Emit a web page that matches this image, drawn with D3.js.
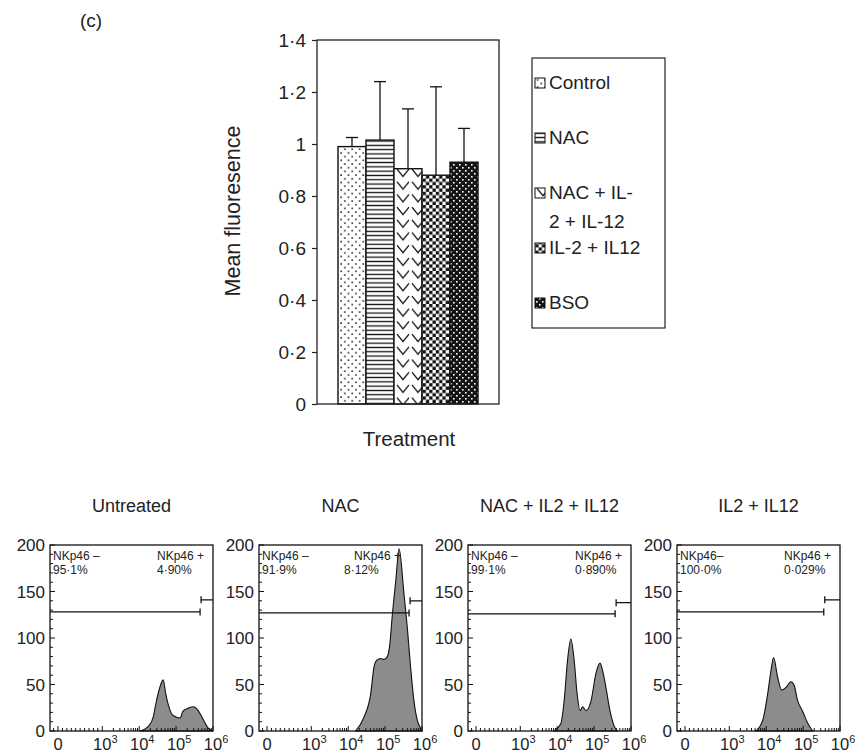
<!DOCTYPE html>
<html>
<head>
<meta charset="utf-8">
<script src="https://cdnjs.cloudflare.com/ajax/libs/d3/7.8.5/d3.min.js"></script>
<style>
  body { margin: 0; background: #fff; }
  svg { display: block; font-family: Arial, "Liberation Sans", sans-serif; }
</style>
</head>
<body>
<script>
// ---- panel (c): mean fluorescence bars ----
var treatments = ["Control", "NAC", "NAC + IL-2 + IL-12", "IL-2 + IL12", "BSO"];
var legendLines = [["Control"], ["NAC"], ["NAC + IL-", "2 + IL-12"], ["IL-2 + IL12"], ["BSO"]];
var meanFluor = [0.99, 1.015, 0.905, 0.88, 0.93];
var errorUp = [0.035, 0.225, 0.23, 0.34, 0.13];
var yTicks = [0, 0.2, 0.4, 0.6, 0.8, 1, 1.2, 1.4];
var patternIds = ["dots", "hlines", "zigzag", "checker", "bso"];

// ---- flow cytometry histograms ----
var panelTitles = ["Untreated", "NAC", "NAC + IL2 + IL12", "IL2 + IL12"];
var negLabels = ["NKp46 \u2013", "NKp46 \u2013", "NKp46 \u2013", "NKp46\u2013"];
var negPct = ["95\u00b71%", "91\u00b79%", "99\u00b71%", "100\u00b70%"];
var posPct = ["4\u00b790%", "8\u00b712%", "0\u00b7890%", "0\u00b7029%"];
var gateSplit = [5.65, 5.65, 5.57, 5.56];   // log10 boundary between gates
var gateNegY = [128, 127, 126, 128];
var gatePosY = [141, 140, 138, 141];
var histXTicks = ["0", "3", "4", "5", "6"];
var histYTicks = [0, 50, 100, 150, 200];

// [log10 intensity, count]
var hist1 = [[4.02,0],[4.25,5],[4.38,15],[4.46,31],[4.56,47],[4.65,55],[4.72,40],[4.79,28],[4.91,17],
  [5.11,14],[5.18,21],[5.29,24],[5.47,26],[5.60,22],[5.74,12],[5.87,3],[6.0,0]];
var hist2 = [[4.20,0],[4.43,15],[4.61,40],[4.70,69],[4.77,76],[4.88,78],[4.97,77],[5.06,80],[5.13,94],
  [5.19,122],[5.29,162],[5.38,196],[5.51,148],[5.60,112],[5.69,69],[5.78,33],[5.87,12],[5.96,3],[6.0,0]];
var hist3 = [[3.92,0],[4.10,8],[4.19,33],[4.28,76],[4.37,99],[4.46,76],[4.54,40],[4.62,22],[4.69,26],
  [4.78,22],[4.92,33],[5.05,62],[5.16,73],[5.23,65],[5.32,47],[5.41,26],[5.52,8],[5.59,2],[5.65,0]];
var hist4 = [[3.72,0],[3.91,12],[4.04,40],[4.13,65],[4.20,79],[4.31,58],[4.42,44],[4.54,47],[4.67,53],
  [4.76,49],[4.85,33],[4.99,21],[5.13,8],[5.26,0]];
var hists = [hist1, hist2, hist3, hist4];

var svg = d3.select("body").append("svg")
  .attr("width", 855)
  .attr("height", 755);

function fmt(d) {
  if (d === 0 || d === 1) return String(d);
  return d3.format(".1f")(d).replace(".", "\u00b7");
}

// fill patterns
var defs = svg.append("defs");
var p = defs.append("pattern").attr("id", "dots").attr("patternUnits", "userSpaceOnUse")
  .attr("width", 7.4).attr("height", 7.4);
p.append("rect").attr("width", 7.4).attr("height", 7.4).attr("fill", "#fff");
p.append("rect").attr("x", 1.2).attr("y", 1.2).attr("width", 1.5).attr("height", 1.5).attr("fill", "#111");
p.append("rect").attr("x", 4.9).attr("y", 4.9).attr("width", 1.5).attr("height", 1.5).attr("fill", "#111");

p = defs.append("pattern").attr("id", "hlines").attr("patternUnits", "userSpaceOnUse")
  .attr("width", 4).attr("height", 4.3);
p.append("rect").attr("width", 4).attr("height", 4.3).attr("fill", "#fff");
p.append("rect").attr("y", 1.5).attr("width", 4).attr("height", 1.3).attr("fill", "#111");

// separate V marks, two per bar width
p = defs.append("pattern").attr("id", "zigzag").attr("patternUnits", "userSpaceOnUse")
  .attr("width", 15).attr("height", 12.7).attr("x", 3);
p.append("rect").attr("width", 15).attr("height", 12.7).attr("fill", "#fff");
p.append("path").attr("d", "M2,2 L8,9.5 L14,2").attr("fill", "none")
  .attr("stroke", "#111").attr("stroke-width", 1.3);

p = defs.append("pattern").attr("id", "checker").attr("patternUnits", "userSpaceOnUse")
  .attr("width", 6.6).attr("height", 6.6);
p.append("rect").attr("width", 6.6).attr("height", 6.6).attr("fill", "#fff");
p.append("rect").attr("width", 3.3).attr("height", 3.3).attr("fill", "#111");
p.append("rect").attr("x", 3.3).attr("y", 3.3).attr("width", 3.3).attr("height", 3.3).attr("fill", "#111");

p = defs.append("pattern").attr("id", "bso").attr("patternUnits", "userSpaceOnUse")
  .attr("width", 6).attr("height", 6);
p.append("rect").attr("width", 6).attr("height", 6).attr("fill", "#151515");
p.append("rect").attr("x", 1).attr("y", 1).attr("width", 1.6).attr("height", 1.6).attr("fill", "#fff");
p.append("rect").attr("x", 4).attr("y", 4).attr("width", 1.6).attr("height", 1.6).attr("fill", "#fff");

// ===== bar chart =====
var margin = { top: 40, left: 317 },
  width = 182,
  height = 364;
var g = svg.append("g")
  .attr("transform", "translate(" + margin.left + "," + margin.top + ")");

svg.append("text")
  .attr("x", 80).attr("y", 27)
  .style("font-size", "19px")
  .attr("fill", "#222")
  .text("(c)");

var x = d3.scaleBand().domain(treatments).range([0, width])
  .paddingInner(0).paddingOuter(0.75);
var y = d3.scaleLinear().domain([0, 1.4]).range([height, 0]);

g.selectAll(".bar")
  .data(treatments)
  .enter().append("rect")
  .attr("class", "bar")
  .attr("x", function (d) { return x(d); })
  .attr("y", function (d, i) { return y(meanFluor[i]); })
  .attr("width", x.bandwidth())
  .attr("height", function (d, i) { return height - y(meanFluor[i]); })
  .attr("fill", function (d, i) { return "url(#" + patternIds[i] + ")"; })
  .attr("stroke", "#111")
  .attr("stroke-width", 1.4);

// upper error bars only
var err = g.selectAll(".err")
  .data(treatments)
  .enter().append("g")
  .attr("class", "err")
  .attr("stroke", "#111")
  .attr("stroke-width", 1.3);
err.append("line")
  .attr("x1", function (d) { return x(d) + x.bandwidth() / 2; })
  .attr("x2", function (d) { return x(d) + x.bandwidth() / 2; })
  .attr("y1", function (d, i) { return y(meanFluor[i]); })
  .attr("y2", function (d, i) { return y(meanFluor[i] + errorUp[i]); });
err.append("line")
  .attr("x1", function (d) { return x(d) + x.bandwidth() / 2 - 6; })
  .attr("x2", function (d) { return x(d) + x.bandwidth() / 2 + 6; })
  .attr("y1", function (d, i) { return y(meanFluor[i] + errorUp[i]); })
  .attr("y2", function (d, i) { return y(meanFluor[i] + errorUp[i]); });

g.append("rect")
  .attr("width", width).attr("height", height)
  .attr("fill", "none").attr("stroke", "#222").attr("stroke-width", 1.3);

var yAxis = g.append("g")
  .call(d3.axisLeft(y).tickValues(yTicks).tickFormat(fmt).tickSize(5).tickPadding(6));
yAxis.select(".domain").remove();
yAxis.selectAll("line").attr("stroke", "#222").attr("stroke-width", 1.2);
yAxis.selectAll("text")
  .style("font-size", "19px")
  .style("font-family", "Arial, 'Liberation Sans', sans-serif")
  .attr("fill", "#222");

g.append("text")
  .attr("transform", "translate(-77," + (height / 2 - 11) + ") rotate(-90)")
  .attr("text-anchor", "middle")
  .style("font-size", "21.5px")
  .attr("fill", "#222")
  .text("Mean fluoresence");

g.append("text")
  .attr("x", width / 2 + 1).attr("y", height + 42)
  .attr("text-anchor", "middle")
  .style("font-size", "20.5px")
  .attr("fill", "#222")
  .text("Treatment");

// legend
var lg = svg.append("g").attr("transform", "translate(532,58)");
lg.append("rect")
  .attr("width", 133).attr("height", 270)
  .attr("fill", "none").attr("stroke", "#222").attr("stroke-width", 1.2);
var item = lg.selectAll(".legend")
  .data(legendLines)
  .enter().append("g")
  .attr("class", "legend")
  .attr("transform", function (d, i) { return "translate(0," + (31 + i * 55) + ")"; });
item.append("rect")
  .attr("x", 3).attr("y", -11)
  .attr("width", 10).attr("height", 10)
  .attr("fill", function (d, i) { return "url(#" + patternIds[i] + ")"; })
  .attr("stroke", "#111").attr("stroke-width", 1);
item.selectAll("text")
  .data(function (d) { return d; })
  .enter().append("text")
  .attr("x", 17)
  .attr("y", function (d, j) { return j * 29; })
  .style("font-size", "19px")
  .attr("fill", "#222")
  .text(function (d) { return d; });

// ===== histograms =====
var hTop = 545, hW = 163, hH = 186;
var hx = d3.scaleLinear().domain([1.8, 6]).range([8, hW]);
var hy = d3.scaleLinear().domain([0, 200]).range([hH, 0]);
var panelX = d3.scalePoint().domain(d3.range(4)).range([50, 677]);

function xRaw(v) {
  if (v <= 1000) return hx(1.8) + v / 1000 * (hx(3) - hx(1.8));
  return hx(Math.log10(v));
}

var minorX = d3.range(-100, 1000, 100).filter(function (v) { return v !== 0; });
[3, 4, 5].forEach(function (k) {
  for (var m = 2; m <= 9; m++) minorX.push(m * Math.pow(10, k));
});
var majorX = [0, 1e3, 1e4, 1e5, 1e6];

var area = d3.area()
  .x(function (d) { return hx(d[0]); })
  .y0(hH)
  .y1(function (d) { return hy(d[1]); })
  .curve(d3.curveMonotoneX);

hists.forEach(function (data, i) {
  var hg = svg.append("g")
    .attr("transform", "translate(" + panelX(i) + "," + hTop + ")");

  hg.append("text")
    .attr("x", hW / 2).attr("y", -33)
    .attr("text-anchor", "middle")
    .style("font-size", "18px")
    .attr("fill", "#222")
    .text(panelTitles[i]);

  hg.append("path")
    .attr("d", area(data))
    .attr("fill", "#8c8c8c")
    .attr("stroke", "#111")
    .attr("stroke-width", 1.1);

  // gates
  var split = hx(gateSplit[i]);
  hg.append("path")
    .attr("d", "M0," + hy(gateNegY[i]) + "H" + split +
      "M" + split + "," + (hy(gateNegY[i]) - 3.5) + "V" + (hy(gateNegY[i]) + 3.5))
    .attr("stroke", "#111").attr("stroke-width", 1.3).attr("fill", "none");
  hg.append("path")
    .attr("d", "M" + (split + 1) + "," + hy(gatePosY[i]) + "H" + hW +
      "M" + (split + 1) + "," + (hy(gatePosY[i]) - 3.5) + "V" + (hy(gatePosY[i]) + 3.5))
    .attr("stroke", "#111").attr("stroke-width", 1.3).attr("fill", "none");

  // gate labels
  hg.append("text").attr("x", 3).attr("y", 15).style("font-size", "12px").attr("fill", "#222").text(negLabels[i]);
  hg.append("text").attr("x", 3).attr("y", 29).style("font-size", "12px").attr("fill", "#222").text(negPct[i]);
  var px = i === 1 ? 95 : 107;
  hg.append("text").attr("x", px).attr("y", 15).style("font-size", "12px").attr("fill", "#222").text("NKp46 +");
  hg.append("text").attr("x", i === 1 ? 85 : px).attr("y", 29).style("font-size", "12px").attr("fill", "#222").text(posPct[i]);

  // frame
  hg.append("rect")
    .attr("width", hW).attr("height", hH)
    .attr("fill", "none").attr("stroke", "#111").attr("stroke-width", 1.3);

  // y ticks (inside)
  hg.selectAll(".ytick")
    .data(d3.range(0, 201, 10))
    .enter().append("line")
    .attr("x1", 0)
    .attr("x2", function (d) { return d % 50 === 0 ? 5 : 3; })
    .attr("y1", function (d) { return hy(d); })
    .attr("y2", function (d) { return hy(d); })
    .attr("stroke", "#111").attr("stroke-width", 1);
  hg.selectAll(".ylab")
    .data(histYTicks)
    .enter().append("text")
    .attr("x", -5)
    .attr("y", function (d) { return hy(d) + 6; })
    .attr("text-anchor", "end")
    .style("font-size", "17px")
    .attr("fill", "#222")
    .text(function (d) { return d; });

  // x ticks (inside)
  hg.selectAll(".xminor")
    .data(minorX)
    .enter().append("line")
    .attr("x1", function (d) { return xRaw(d); })
    .attr("x2", function (d) { return xRaw(d); })
    .attr("y1", hH).attr("y2", hH - 3)
    .attr("stroke", "#111").attr("stroke-width", 1);
  hg.selectAll(".xmajor")
    .data(majorX)
    .enter().append("line")
    .attr("x1", function (d) { return xRaw(d); })
    .attr("x2", function (d) { return xRaw(d); })
    .attr("y1", hH).attr("y2", hH - 5)
    .attr("stroke", "#111").attr("stroke-width", 1);

  var xl = hg.selectAll(".xlab")
    .data(histXTicks)
    .enter().append("text")
    .attr("y", hH + 19)
    .style("font-size", "16.5px")
    .attr("fill", "#222")
    .attr("x", function (d, j) {
      return d === "0" ? xRaw(majorX[j]) - 4.6 : xRaw(majorX[j]) - 9.2;
    });
  xl.append("tspan").text(function (d) { return d === "0" ? "0" : "10"; });
  xl.append("tspan")
    .attr("dy", -7)
    .style("font-size", "11px")
    .text(function (d) { return d === "0" ? "" : d; });
});
</script>
</body>
</html>
